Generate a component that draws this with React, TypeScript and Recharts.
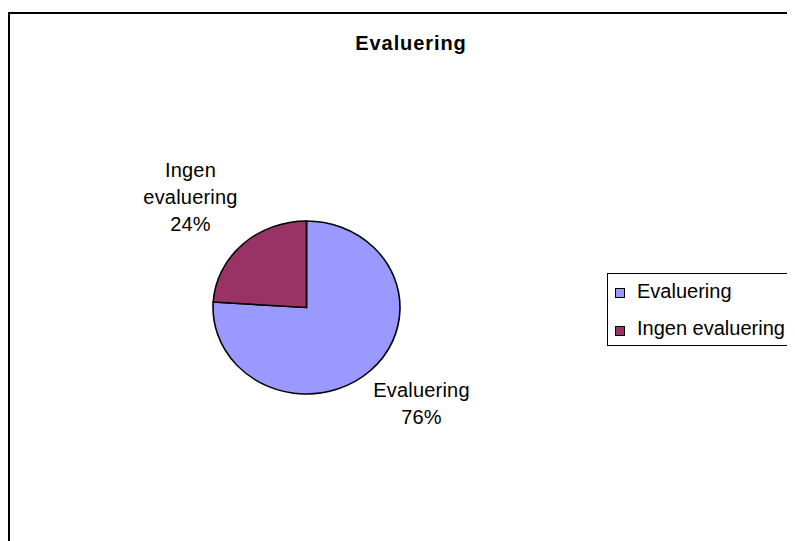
import { PieChart, Pie, Cell, Legend, Sector } from 'recharts'

const categories = ['Evaluering', 'Ingen evaluering']
const shares = [76, 24]
const colors = ['#9999FF', '#993366']
const labelLines = [['Evaluering', '76%'], ['Ingen', 'evaluering', '24%']]

const data = categories.map((name, i) => ({ name, value: shares[i] }))

const FONT = 'Arial, "Liberation Sans", sans-serif'
const SQUASH = 0.925
const RAD = Math.PI / 180

const EllipseSector = (props: any) => {
  const { cx, cy } = props
  return (
    <g transform={`translate(${cx},${cy}) scale(1,${SQUASH}) translate(${-cx},${-cy})`}>
      <Sector {...props} stroke="#000" strokeWidth={1.6} />
    </g>
  )
}

const renderLabel = (props: any) => {
  const { cx, cy, midAngle, outerRadius, index } = props
  const cos = Math.cos(midAngle * RAD)
  const sin = Math.sin(midAngle * RAD)
  const ex = cx + outerRadius * cos
  const ey = cy - outerRadius * sin * SQUASH
  const lines = labelLines[index]
  const x = ex + (cos >= 0 ? 51 : -52)
  const lineH = 27
  const firstBase = sin < 0 ? ey + 26 : ey - 13 - lineH * (lines.length - 1)
  return (
    <text x={x} y={firstBase} textAnchor="middle" fontFamily={FONT} fontSize={20} fill="#000" letterSpacing={0.2}>
      {lines.map((t, i) => (
        <tspan key={i} x={x} y={firstBase + i * lineH}>
          {t}
        </tspan>
      ))}
    </text>
  )
}

const LegendBox = () => (
  <div
    style={{
      position: 'relative',
      width: 250,
      height: 71,
      border: '1px solid #000',
      background: '#fff',
      fontFamily: FONT,
      fontSize: 20,
      lineHeight: '20px',
    }}
  >
    {categories.map((c, i) => (
      <div key={c}>
        <span
          style={{
            position: 'absolute',
            left: 7,
            top: i === 0 ? 14 : 52,
            width: 8,
            height: 8,
            border: '1.5px solid #000',
            background: colors[i],
          }}
        />
        <span style={{ position: 'absolute', left: 29, top: i === 0 ? 7 : 44, whiteSpace: 'nowrap' }}>
          {c}
        </span>
      </div>
    ))}
  </div>
)

export default function App() {
  return (
    <div style={{ position: 'relative', width: 787, height: 533, overflow: 'hidden', background: '#fff' }}>
      <div
        style={{
          position: 'absolute',
          left: 0,
          top: 4,
          width: 900,
          height: 900,
          border: '2px solid #000',
        }}
      />
      <div
        style={{
          position: 'absolute',
          left: 0,
          top: 25,
          width: 806,
          textAlign: 'center',
          fontFamily: FONT,
          fontSize: 20,
          lineHeight: '20px',
          fontWeight: 'bold',
          letterSpacing: 0.9,
        }}
      >
        Evaluering
      </div>
      <div style={{ position: 'absolute', left: 0, top: 0 }}>
        <PieChart width={787} height={533} margin={{ top: 0, right: 0, bottom: 0, left: 0 }}>
          <Pie
            data={data}
            dataKey="value"
            nameKey="name"
            cx={298.5}
            cy={299.5}
            outerRadius={93.5}
            startAngle={90}
            endAngle={-270}
            shape={EllipseSector}
            label={renderLabel}
            labelLine={false}
            isAnimationActive={false}
          >
            {data.map((d, i) => (
              <Cell key={d.name} fill={colors[i]} />
            ))}
          </Pie>
          <Legend
            content={<LegendBox />}
            wrapperStyle={{ position: 'absolute', left: 599, top: 265, width: 'auto' }}
          />
        </PieChart>
      </div>
    </div>
  )
}
